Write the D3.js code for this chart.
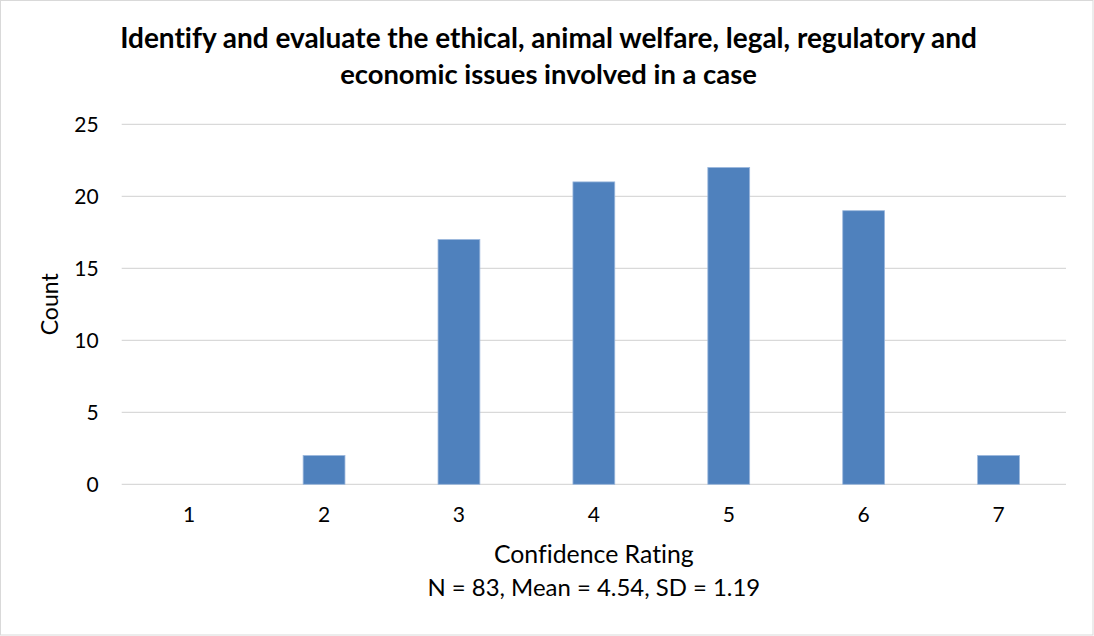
<!DOCTYPE html>
<html>
<head>
<meta charset="utf-8">
<script src="https://cdn.jsdelivr.net/npm/d3@7"></script>
<style>
  body { margin: 0; background: #fff; }
  text { font-family: Lato, "Open Sans", sans-serif; fill: #000; font-variant-ligatures: none; }
</style>
</head>
<body>
<svg id="chart" width="1094" height="636"></svg>
<script>
// data
const ratings = ["1", "2", "3", "4", "5", "6", "7"];
const counts = [0, 2, 17, 21, 22, 19, 2];
const yTicks = [0, 5, 10, 15, 20, 25];
const titleLines = [
  "Identify and evaluate the ethical, animal welfare, legal, regulatory and",
  "economic issues involved in a case"
];
const xTitle = "Confidence Rating";
const statsLine = "N = 83, Mean = 4.54, SD = 1.19";
const yTitle = "Count";

const W = 1094, H = 636;
const margin = { top: 124.3, right: 28, bottom: 151.7, left: 121.7 };
const svg = d3.select("#chart");

svg.append("rect")
  .attr("x", 0.5).attr("y", 0.5)
  .attr("width", W - 1.5).attr("height", H - 1.5)
  .attr("fill", "#fff").attr("stroke", "#d9d9d9");

const x = d3.scaleBand()
  .domain(ratings)
  .range([margin.left, W - margin.right])
  .paddingInner(0.69).paddingOuter(0.345);

const y = d3.scaleLinear()
  .domain([0, 25])
  .range([H - margin.bottom, margin.top]);

// gridlines
svg.append("g")
  .selectAll("line")
  .data(yTicks)
  .join("line")
  .attr("x1", margin.left).attr("x2", W - margin.right)
  .attr("y1", d => y(d)).attr("y2", d => y(d))
  .attr("stroke", "#d9d9d9").attr("stroke-width", 1.3);

// y axis labels
const yAxis = svg.append("g")
  .attr("transform", `translate(${margin.left},0)`)
  .call(d3.axisLeft(y).tickValues(yTicks).tickSize(0).tickPadding(23));
yAxis.select(".domain").remove();
yAxis.selectAll("text")
  .attr("font-family", "Lato, sans-serif")
  .attr("font-size", 21).attr("fill", "#000");

// bars
svg.append("g")
  .selectAll("rect")
  .data(counts)
  .join("rect")
  .attr("x", (d, i) => x(ratings[i]))
  .attr("width", x.bandwidth())
  .attr("y", d => y(d))
  .attr("height", d => y(0) - y(d))
  .attr("fill", "#4f81bd")
  .attr("stroke", "#9bb7dc").attr("stroke-width", 0.8);

// x axis labels
const xAxis = svg.append("g")
  .attr("transform", `translate(0,${y(0)})`)
  .call(d3.axisBottom(x).tickSize(0).tickPadding(23));
xAxis.select(".domain").remove();
xAxis.selectAll("text")
  .attr("font-family", "Lato, sans-serif")
  .attr("font-size", 21).attr("fill", "#000");

// fit a text element to a target width by adjusting its font size
function fitWidth(sel, target) {
  const w = sel.node().getComputedTextLength();
  const fs = parseFloat(sel.attr("font-size"));
  sel.attr("font-size", fs * target / w);
}

const cx = (margin.left + W - margin.right) / 2;

svg.append("text")
  .attr("x", cx).attr("y", 563)
  .attr("text-anchor", "middle")
  .attr("font-size", 21)
  .text(xTitle)
  .call(fitWidth, 200);

svg.append("text")
  .attr("x", cx).attr("y", 595.5)
  .attr("text-anchor", "middle")
  .attr("font-size", 21)
  .text(statsLine)
  .call(fitWidth, 333);

svg.append("text")
  .attr("transform", `translate(58,${(y(0) + y(25)) / 2}) rotate(-90)`)
  .attr("text-anchor", "middle")
  .attr("font-size", 21)
  .text(yTitle)
  .call(fitWidth, 62);

const titleWidths = [857, 417];
const titleY = [48.3, 84];
titleLines.forEach((t, i) => {
  svg.append("text")
    .attr("x", 548.5).attr("y", titleY[i])
    .attr("text-anchor", "middle")
    .attr("font-weight", "bold")
    .attr("font-size", 24)
    .text(t)
    .call(fitWidth, titleWidths[i]);
});
</script>
</body>
</html>
